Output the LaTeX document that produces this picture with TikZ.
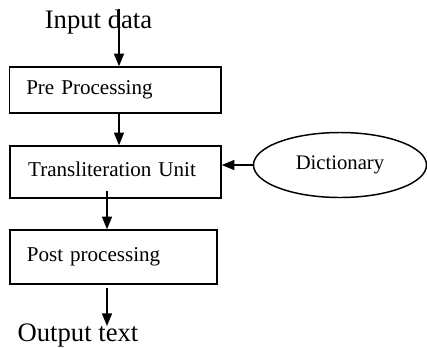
\documentclass[tikz,border=0pt]{standalone}
\usepackage{fontspec}
\setmainfont{Liberation Serif}
\usetikzlibrary{arrows.meta,shapes.geometric}
\begin{document}
\begin{tikzpicture}[x=0.75pt,y=-0.75pt,
  line width=1.1pt,
  arr/.style={-{Triangle[length=9.5pt,width=7.5pt]}},
  stage/.style={draw, rectangle, line width=1.1pt, align=left,
    font=\fontsize{15.8}{18}\selectfont, inner ysep=0pt, inner xsep=12.5pt},
  outer/.style={font=\fontsize{20}{24}\selectfont, inner sep=0pt},
  dictnode/.style={draw, ellipse, line width=1.1pt,
    font=\fontsize{15.5}{18}\selectfont, inner sep=0pt}]
  \useasboundingbox (0,0) rectangle (427,347);

  % processing stages
  \node[stage, minimum width=211.5*0.75pt, minimum height=46*0.75pt,
        text width=133.5pt] (pre) at (115.25,90)
        {\raisebox{2pt}{Pre Processing}};
  \node[stage, minimum width=211*0.75pt, minimum height=52*0.75pt,
        text width=131pt, inner xsep=13.5pt] (trans) at (115.5,172)
        {\raisebox{3.5pt}{Transliteration Unit}};
  \node[stage, minimum width=207*0.75pt, minimum height=54*0.75pt,
        text width=130pt] (post) at (113.5,257)
        {\raisebox{3.5pt}{Post processing}};

  % dictionary
  \node[dictnode, minimum width=173*0.75pt, minimum height=65*0.75pt] (dict)
        at (340,165) {\raisebox{4pt}{Dictionary}};

  % input and output labels
  \node[outer, anchor=base] (in) at (98.5,28) {Input data};
  \node[outer, anchor=base] (out) at (78,341) {Output text};

  % connector columns
  \coordinate (c1) at (119,0);
  \coordinate (c2) at (107,0);
  \coordinate (s3) at (107,191);
  \coordinate (e4) at (107,326);

  \draw[arr] (in.north -| c1) -- (c1 |- pre.north);
  \draw[arr] (c1 |- pre.south) -- (c1 |- trans.north);
  \draw[arr] (s3) -- (c2 |- post.north);
  \draw[arr] (c2 |- post.south) ++(0,4*0.75) -- (e4);
  \draw[arr] (dict.west) -- (dict.west -| trans.east);
\end{tikzpicture}
\end{document}
